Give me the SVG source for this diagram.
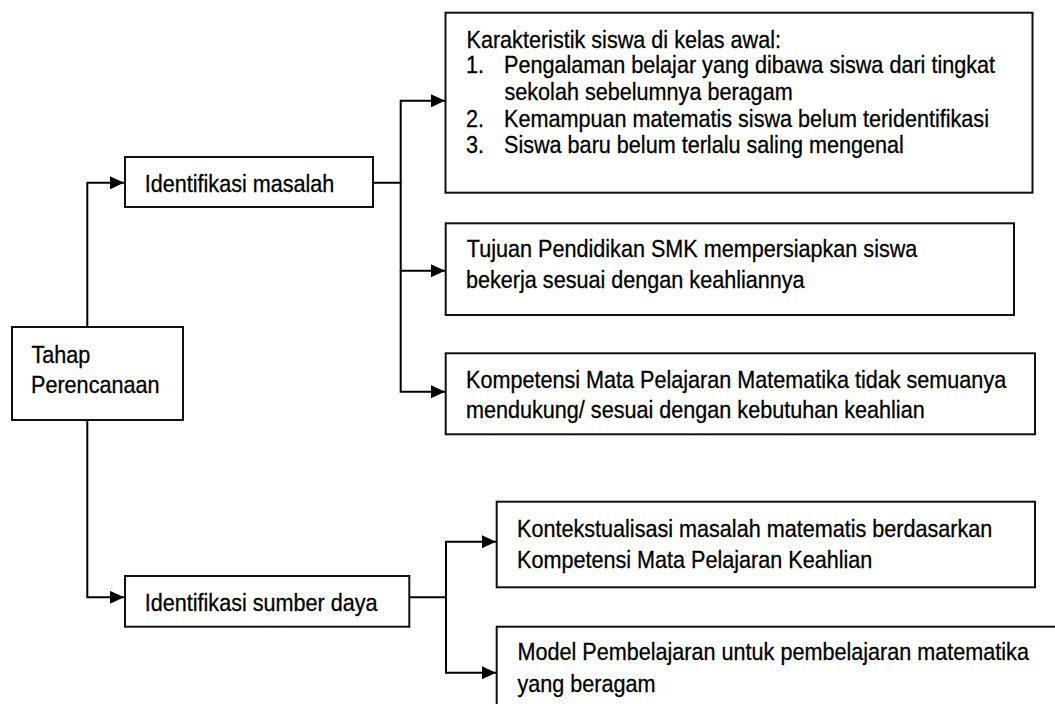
<svg xmlns="http://www.w3.org/2000/svg" width="1055" height="704" viewBox="0 0 1055 704">
  <style>
    .box { fill: #ffffff; stroke: #111111; stroke-width: 2; }
    .conn { fill: none; stroke: #000000; stroke-width: 2; }
    .t { font-family: "Liberation Sans", Arial, sans-serif; font-size: 24px; fill: #000000; stroke: #000000; stroke-width: 0.3; }
  </style>
  <defs>
    <marker id="arrow" markerUnits="userSpaceOnUse" markerWidth="15" markerHeight="14" refX="14" refY="6.5" orient="auto" viewBox="0 0 15 14">
      <path d="M0,0 L14,6.5 L0,13 z" fill="#000000"/>
    </marker>
  </defs>
  <rect x="0" y="0" width="1055" height="704" fill="#ffffff"/>

  <g id="connectors">
    <path class="conn" d="M87.3,327 V182.7 H124" marker-end="url(#arrow)"/>
    <path class="conn" d="M87.3,420 V597.3 H124" marker-end="url(#arrow)"/>
    <path class="conn" d="M373,182.7 H400.7 V100.7 H445" marker-end="url(#arrow)"/>
    <path class="conn" d="M400.7,182.7 V270.7 H445" marker-end="url(#arrow)"/>
    <path class="conn" d="M400.7,270.7 V391.7 H445" marker-end="url(#arrow)"/>
    <path class="conn" d="M409.3,597.3 H446 V541.7 H496" marker-end="url(#arrow)"/>
    <path class="conn" d="M446,597.3 V672.7 H496" marker-end="url(#arrow)"/>
  </g>

  <g id="tahap">
    <rect class="box" x="12" y="327" width="171" height="93"/>
    <text class="t" transform="translate(31.5 362.7) scale(0.9 1)">Tahap</text>
    <text class="t" transform="translate(31 393.3) scale(0.9 1)">Perencanaan</text>
  </g>

  <g id="identifikasi-masalah">
    <rect class="box" x="125" y="157" width="248" height="50"/>
    <text class="t" transform="translate(144.7 191.7) scale(0.9 1)">Identifikasi masalah</text>
  </g>

  <g id="identifikasi-sumber-daya">
    <rect class="box" x="125" y="576" width="284.3" height="50.7"/>
    <text class="t" transform="translate(144.7 610.7) scale(0.9 1)">Identifikasi sumber daya</text>
  </g>

  <g id="karakteristik">
    <rect class="box" x="445.5" y="12.7" width="587" height="180"/>
    <text class="t" transform="translate(466.5 47.7) scale(0.9 1)">Karakteristik siswa di kelas awal:</text>
    <text class="t" transform="translate(466 73) scale(0.9 1)">1.</text>
    <text class="t" transform="translate(504 73) scale(0.9 1)">Pengalaman belajar yang dibawa siswa dari tingkat</text>
    <text class="t" transform="translate(504.5 99.5) scale(0.9 1)">sekolah sebelumnya beragam</text>
    <text class="t" transform="translate(466 126.5) scale(0.9 1)">2.</text>
    <text class="t" transform="translate(504 126.5) scale(0.9 1)">Kemampuan matematis siswa belum teridentifikasi</text>
    <text class="t" transform="translate(466 153) scale(0.9 1)">3.</text>
    <text class="t" transform="translate(504 153) scale(0.9 1)">Siswa baru belum terlalu saling mengenal</text>
  </g>

  <g id="tujuan">
    <rect class="box" x="445.7" y="223.3" width="568.3" height="91.7"/>
    <text class="t" transform="translate(466.8 256.7) scale(0.9 1)">Tujuan Pendidikan SMK mempersiapkan siswa</text>
    <text class="t" transform="translate(466 288) scale(0.9 1)">bekerja sesuai dengan keahliannya</text>
  </g>

  <g id="kompetensi">
    <rect class="box" x="445.7" y="353.3" width="589.3" height="81"/>
    <text class="t" transform="translate(466 387.5) scale(0.9 1)">Kompetensi Mata Pelajaran Matematika tidak semuanya</text>
    <text class="t" transform="translate(466 418) scale(0.9 1)">mendukung/ sesuai dengan kebutuhan keahlian</text>
  </g>

  <g id="kontekstualisasi">
    <rect class="box" x="496.7" y="501.7" width="538.3" height="85.6"/>
    <text class="t" transform="translate(517 536.7) scale(0.9 1)">Kontekstualisasi masalah matematis berdasarkan</text>
    <text class="t" transform="translate(517 568.3) scale(0.9 1)">Kompetensi Mata Pelajaran Keahlian</text>
  </g>

  <g id="model">
    <rect class="box" x="496.7" y="626.7" width="600" height="120"/>
    <text class="t" transform="translate(517.5 660) scale(0.9 1)">Model Pembelajaran untuk pembelajaran matematika</text>
    <text class="t" transform="translate(517.5 691.7) scale(0.9 1)">yang beragam</text>
  </g>
</svg>
